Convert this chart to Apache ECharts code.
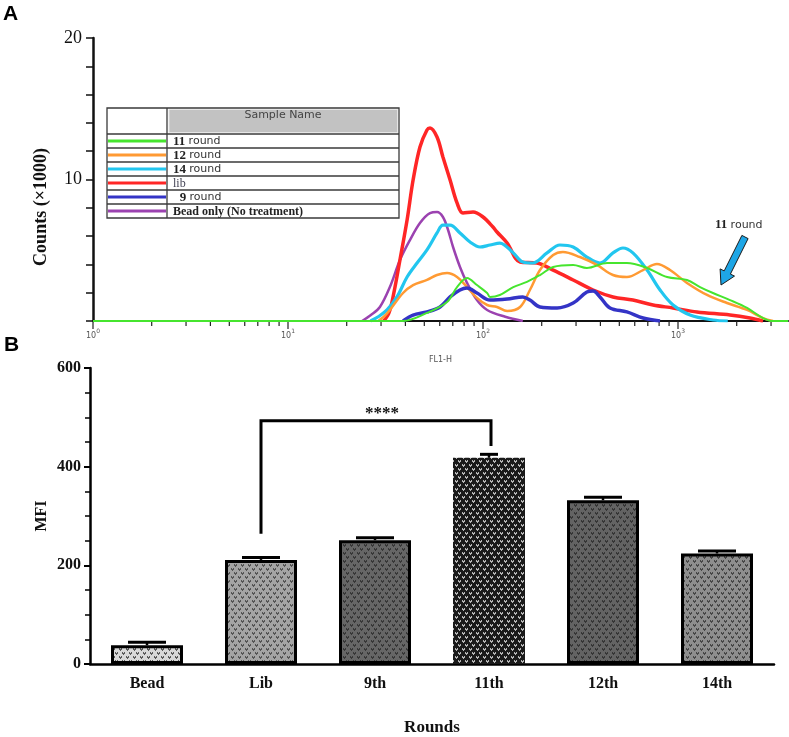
<!DOCTYPE html>
<html>
<head>
<meta charset="utf-8">
<script src="https://cdn.jsdelivr.net/npm/echarts@6/dist/echarts.min.js"></script>
<style>
html,body{margin:0;padding:0;background:#fff;}
#main{width:789px;height:737px;}
</style>
</head>
<body>
<div id="main"></div>
<script>
// ---------- Panel A data (FL1-H value, counts x1000) ----------
const round11 = [[1,0],[38.9,0],[51.6,0.57],[65.4,1.34],[73.6,2.4],[82.8,3.04],[93.1,2.54],[105,1.98],[108.6,1.7],[122,1.84],[143,2.4],[168,2.76],[196,3.25],[229,3.82],[290,3.96],[341,3.75],[433,4.1],[547,4.1],[694,3.75],[879,3.11],[1112,2.9],[1297,2.4],[1511,1.98],[1848,1.48],[2260,0.92],[2729,0.21],[3069,0],[3665,0]];
const round12 = [[29,0],[31,0.3],[33.3,0.78],[38.9,1.98],[43.8,2.54],[51.6,2.9],[58.1,3.25],[65.4,3.39],[73.6,3.11],[82.8,2.4],[93.1,1.63],[105,1.13],[118,0.99],[133,0.71],[155,0.99],[174,2.19],[196,3.6],[229,4.66],[257,4.88],[314,4.52],[384,3.96],[464,3.25],[547,3.11],[662,3.6],[780,4.03],[910,3.6],[1112,2.69],[1409,1.84],[1783,1.27],[2260,0.78],[2729,0.21],[3069,0]];
const round14 = [[26.5,0],[29,0.3],[32.2,0.78],[36.2,1.7],[40.8,3.11],[45.9,4.1],[51.6,5.02],[58.1,6.22],[62.3,6.78],[67.8,6.78],[76.2,6.22],[85.8,5.58],[96.5,5.23],[108.6,5.37],[122,5.51],[143,4.81],[160,4.17],[180,4.1],[213,4.81],[248,5.37],[290,5.23],[341,4.52],[398,4.1],[464,4.81],[522,5.16],[587,4.81],[694,3.6],[809,2.19],[943,1.13],[1153,0.42],[1511,0.07],[1800,0]];
const libCurve = [[31,0],[33,0.6],[34.8,1.9],[37.5,4.31],[40.8,7.14],[43.8,9.96],[47.5,12.3],[51.6,13.5],[53.5,13.64],[58.1,13.0],[62.3,11.59],[67.8,9.96],[73.6,8.34],[78.9,7.63],[88.9,7.7],[100,7.35],[112.5,6.64],[118,6.29],[133,5.51],[155,4.17],[189,4.1],[229,3.6],[290,2.9],[367,2.19],[464,1.7],[587,1.48],[745,1.13],[943,0.92],[1251,0.64],[1848,0.42],[2339,0.21],[2729,0]];
const round9 = [[38.9,0],[43.8,0.42],[51.6,0.64],[60.2,0.99],[67.8,1.7],[76.2,2.19],[82.8,2.33],[93.1,1.98],[108.6,1.48],[133,1.55],[160,1.7],[174,1.48],[196,0.99],[240,0.92],[290,1.27],[341,2.05],[367,2.12],[398,1.7],[448,0.92],[547,0.64],[662,0.21],[809,0]];
const beadCurve = [[24,0],[26.5,0.4],[29.6,0.99],[33.3,2.4],[37.5,4.31],[42.2,5.72],[47.5,6.93],[53.5,7.63],[58.1,7.7],[62.3,7.35],[66.2,6.43],[70.2,5.23],[76.2,3.82],[82.8,2.69],[93.1,1.48],[105,0.78],[130,0.3],[160,0]];

const legendNames = ['11 round','12 round','14 round','lib','9 round','Bead only (No treatment)'];
const xMajorTicks = [1,10,100,1000];
const xMinorTicks = [2,3,4,5,6,7,8,9,20,30,40,50,60,70,80,90,200,300,400,500,600,700,800,900,2000,3000];

// ---------- Panel B data ----------
const categories = ['Bead','Lib','9th','11th','12th','14th'];
const mfiMean = [38, 211, 251, 418, 332, 224];
const mfiSD = [6, 5, 5, 7, 6, 5];
const bracketCats = [1, 3];          // Lib -> 11th
const bracketVals = [264, 493, 442]; // left start, top, right end
const sigLabel = '****';

// ---------- styling ----------
const curveColors = {g:'#46e52e', o:'#ff9a33', c:'#22c6ef', r:'#ff2626', b:'#3434c6', p:'#9b42b0'};
const SERIF = '"Liberation Serif", "Times New Roman", serif';
const SANS = '"DejaVu Sans", Verdana, sans-serif';

function makePattern(bg, fg){
  const c = document.createElement('canvas');
  c.width = 7; c.height = 8;
  const ctx = c.getContext('2d');
  ctx.fillStyle = bg; ctx.fillRect(0,0,7,8);
  ctx.fillStyle = fg;
  function heart(x,y){
    ctx.fillRect(x,y,1,1); ctx.fillRect(x+2,y,1,1);
    ctx.fillRect(x,y+1,3,1); ctx.fillRect(x+1,y+2,1,1);
  }
  heart(0,0); heart(3,4);
  return c;
}
const patterns = [
  makePattern('#d8d8d8','#5a5a5a'),
  makePattern('#a4a4a4','#555555'),
  makePattern('#666666','#383838'),
  makePattern('#1a1a1a','#b5b5b5'),
  makePattern('#636363','#363636'),
  makePattern('#8e8e8e','#474747')
];

const chart = echarts.init(document.getElementById('main'), null, {renderer:'canvas'});

function tickSeries(data, len){
  return {
    type:'custom', xAxisIndex:0, yAxisIndex:0, silent:true, z:5,
    data: data.map(v=>[v,0]),
    renderItem: function(params, api){
      const p = api.coord([api.value(0), 0]);
      return {type:'line', shape:{x1:p[0], y1:p[1], x2:p[0], y2:p[1]+len},
              style:{stroke:'#222', lineWidth:1.2}};
    }
  };
}

function curve(name, data, color, width, z){
  return {type:'line', name:name, xAxisIndex:0, yAxisIndex:0, data:data, showSymbol:false,
          smooth:0.35, z:z, lineStyle:{color:color, width:width}, itemStyle:{color:color}};
}

// legend table graphic
const tblX0 = 107, tblX1 = 399, colX = 167, tblY0 = 108, hdrY1 = 134, rowH = 14;
const rowColors = [curveColors.g, curveColors.o, curveColors.c, curveColors.r, curveColors.b, curveColors.p];
const tableEls = [];
tableEls.push({type:'rect', shape:{x:tblX0, y:tblY0, width:tblX1-tblX0, height:(hdrY1-tblY0)+rowH*6},
  style:{fill:'#fff', stroke:'#3a3a3a', lineWidth:1.3}});
tableEls.push({type:'rect', shape:{x:colX+2, y:tblY0+1.5, width:tblX1-colX-3.5, height:hdrY1-tblY0-3},
  style:{fill:'#c2c2c2', stroke:'#e6e6e6', lineWidth:1}});
tableEls.push({type:'line', shape:{x1:colX, y1:tblY0, x2:colX, y2:hdrY1+rowH*6}, style:{stroke:'#3a3a3a', lineWidth:1.3}});
for(let i=0;i<6;i++){
  const y = hdrY1 + rowH*i;
  tableEls.push({type:'line', shape:{x1:tblX0, y1:y, x2:tblX1, y2:y}, style:{stroke:'#3a3a3a', lineWidth:1.3}});
  tableEls.push({type:'line', shape:{x1:tblX0+1, y1:y+rowH/2, x2:colX-1, y2:y+rowH/2}, style:{stroke:rowColors[i], lineWidth:3}});
}
tableEls.push({type:'text', x:(colX+tblX1)/2, y:tblY0+7, style:{text:'Sample Name', fontFamily:SANS, fontSize:11, fill:'#444', align:'center', verticalAlign:'middle'}});
const richRow = {
  n:{fontFamily:SERIF, fontWeight:'bold', fontSize:13, fill:'#222'},
  r:{fontFamily:SANS, fontSize:11, fill:'#333'},
  l:{fontFamily:SERIF, fontSize:12, fill:'#445'},
  b:{fontFamily:SERIF, fontWeight:'bold', fontSize:12, fill:'#222'}
};
const rowTexts = ['{n|11} {r|round}','{n|12} {r|round}','{n|14} {r|round}','{l|lib}','  {n|9} {r|round}','{b|Bead only (No treatment)}'];
rowTexts.forEach((t,i)=>{
  tableEls.push({type:'text', x:173, y:hdrY1+rowH*i+rowH/2+0.5, style:{text:t, rich:richRow, align:'left', verticalAlign:'middle'}});
});

// arrow annotation
const arrowPts = [[748.1,238.6],[730.4,274.1],[734.5,276.1],[721,285],[720.1,268.9],[724.2,270.9],[741.9,235.4]];

const option = {
  animation:false,
  backgroundColor:'#fff',
  grid:[
    {left:93, top:38, width:695, height:283},
    {left:90, top:368, width:684, height:298}
  ],
  xAxis:[
    {type:'log', logBase:10, min:1, max:3665, gridIndex:0,
     axisLine:{onZero:false, lineStyle:{color:'#111', width:2}},
     axisTick:{show:false}, splitLine:{show:false},
     axisLabel:{margin:7, showMaxLabel:false,
       formatter:function(v){
         const l = Math.log10(v), e = Math.round(l);
         if (Math.abs(l-e) > 1e-6) return '';
         return '{b|10}{s|'+e+'}';
       },
       rich:{b:{fontFamily:SANS, fontSize:8, color:'#555', verticalAlign:'bottom', lineHeight:12},
             s:{fontFamily:SANS, fontSize:6, color:'#555', verticalAlign:'top', lineHeight:12}}},
     name:'FL1-H', nameLocation:'middle', nameGap:35, nameMoveOverlap:false,
     nameTextStyle:{fontFamily:SANS, fontSize:8, color:'#555'}},
    {type:'category', data:categories, gridIndex:1,
     axisLine:{lineStyle:{color:'#000', width:2.5}},
     axisTick:{alignWithLabel:true, length:6, lineStyle:{color:'#000', width:2}},
     axisLabel:{margin:12, fontFamily:SERIF, fontWeight:'bold', fontSize:16, color:'#111'},
     name:'Rounds', nameLocation:'middle', nameGap:55, nameMoveOverlap:false,
     nameTextStyle:{fontFamily:SERIF, fontWeight:'bold', fontSize:17, color:'#111'}}
  ],
  yAxis:[
    {type:'value', min:0, max:20, interval:2, gridIndex:0,
     axisLine:{show:true, lineStyle:{color:'#111', width:2.5}},
     axisTick:{show:true, length:7, lineStyle:{color:'#111', width:1.5}},
     splitLine:{show:false},
     axisLabel:{margin:11, fontFamily:SERIF, fontSize:18, color:'#111',
       formatter:function(v){ return (v===10||v===20) ? String(v) : ''; }}},
    {type:'value', min:0, max:600, interval:200, gridIndex:1,
     axisLine:{show:true, lineStyle:{color:'#000', width:2.5}},
     axisTick:{show:true, length:6, lineStyle:{color:'#000', width:2}},
     minorTick:{show:true, splitNumber:4, length:5, lineStyle:{color:'#000', width:1.5}},
     splitLine:{show:false},
     axisLabel:{margin:9, fontFamily:SERIF, fontWeight:'bold', fontSize:16, color:'#111'},
     name:'MFI', nameLocation:'middle', nameGap:40, nameMoveOverlap:false,
     nameTextStyle:{fontFamily:SERIF, fontWeight:'bold', fontSize:16, color:'#111'}}
  ],
  series:[
    tickSeries(xMajorTicks, 8),
    tickSeries(xMinorTicks, 5),
    curve(legendNames[5], beadCurve, curveColors.p, 2.5, 2),
    curve(legendNames[3], libCurve, curveColors.r, 3.5, 3),
    curve(legendNames[2], round14, curveColors.c, 3.2, 4),
    curve(legendNames[1], round12, curveColors.o, 2.5, 5),
    curve(legendNames[4], round9, curveColors.b, 3.5, 6),
    curve(legendNames[0], round11, curveColors.g, 2, 7),
    {type:'bar', xAxisIndex:1, yAxisIndex:1, barWidth:72, z:2,
     data: mfiMean.map((v,i)=>({value:v, itemStyle:{
       color:{image:patterns[i], repeat:'repeat'},
       borderColor:'#000', borderWidth: i===3 ? 0 : 3}}))},
    {type:'custom', xAxisIndex:1, yAxisIndex:1, z:4, silent:true,
     data: mfiMean.map((v,i)=>[i, v, v+mfiSD[i]]),
     renderItem:function(params, api){
       const i = api.value(0);
       const top = api.coord([i, api.value(2)]);
       const base = api.coord([i, api.value(1)]);
       const hw = i===3 ? 9 : 19;
       return {type:'group', children:[
         {type:'line', shape:{x1:top[0], y1:base[1], x2:top[0], y2:top[1]}, style:{stroke:'#000', lineWidth:2.5}},
         {type:'line', shape:{x1:top[0]-hw, y1:top[1], x2:top[0]+hw, y2:top[1]}, style:{stroke:'#000', lineWidth:3}}
       ]};
     }},
    {type:'custom', xAxisIndex:1, yAxisIndex:1, z:5, silent:true,
     data:[[bracketCats[0], bracketCats[1], bracketVals[0], bracketVals[1], bracketVals[2]]],
     renderItem:function(params, api){
       const a = api.coord([api.value(0), api.value(2)]);
       const b = api.coord([api.value(0), api.value(3)]);
       const c = api.coord([api.value(1), api.value(3)]);
       const d = api.coord([api.value(1), api.value(4)]);
       return {type:'group', children:[
         {type:'polyline', shape:{points:[a,b,[c[0]+2,c[1]],[d[0]+2,d[1]]]}, style:{stroke:'#000', lineWidth:3, fill:null}},
         {type:'text', x:(b[0]+c[0])/2+7, y:b[1]+1, style:{text:sigLabel, fontFamily:SERIF, fontWeight:'bold', fontSize:17, fill:'#111', align:'center', verticalAlign:'bottom'}}
       ]};
     }}
  ],
  graphic:[
    {type:'text', x:3, y:4, style:{text:'A', fontFamily:'"Liberation Sans", Arial, sans-serif', fontWeight:'bold', fontSize:21, fill:'#000'}},
    {type:'text', x:4, y:335, style:{text:'B', fontFamily:'"Liberation Sans", Arial, sans-serif', fontWeight:'bold', fontSize:21, fill:'#000'}},
    {type:'text', x:41, y:207, rotation:Math.PI/2, style:{text:'Counts (\u00d71000)', fontFamily:SERIF, fontWeight:'bold', fontSize:18, fill:'#111', align:'center', verticalAlign:'middle'}},
    {type:'group', children:tableEls},
    {type:'text', x:715, y:225, style:{text:'{n|11} {r|round}', rich:richRow, align:'left', verticalAlign:'middle'}},
    {type:'polygon', shape:{points:arrowPts}, style:{fill:'#1ea6e6', stroke:'#1b1b1b', lineWidth:1}}
  ]
};
chart.setOption(option);
</script>
</body>
</html>
